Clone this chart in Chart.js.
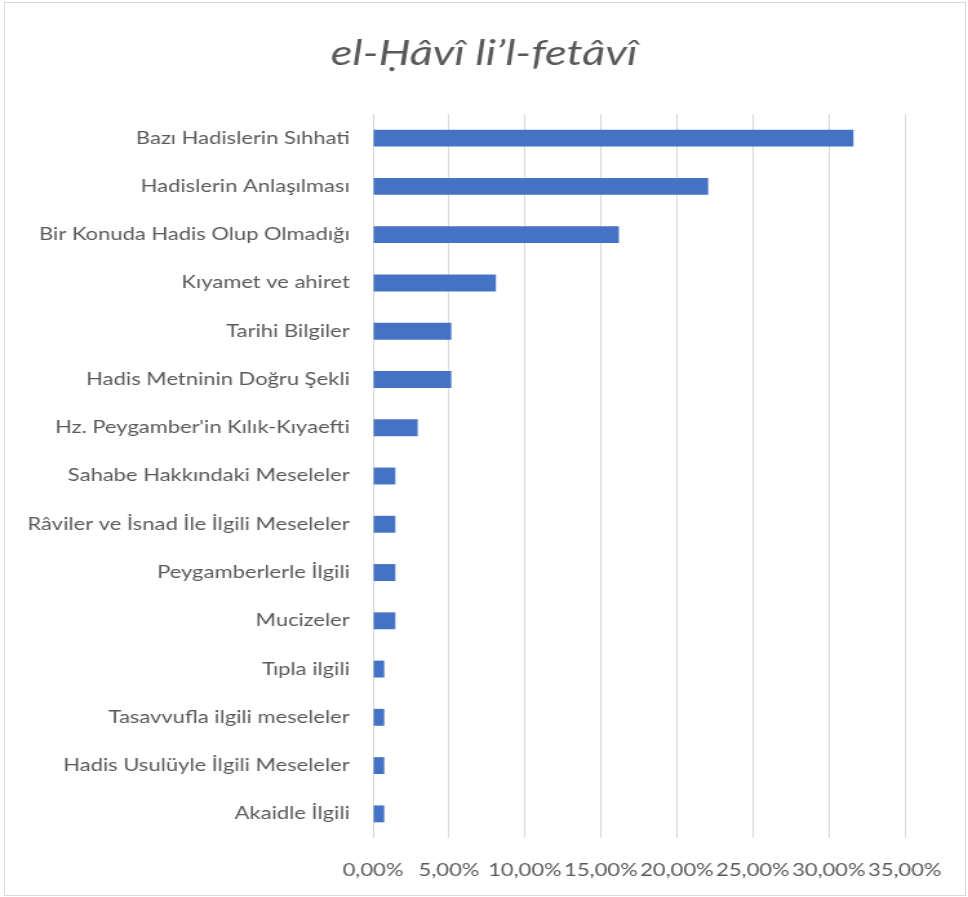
<!DOCTYPE html>
<html>
<head>
<meta charset="utf-8">
<script src="https://cdn.jsdelivr.net/npm/chart.js@4.4.1/dist/chart.umd.min.js"></script>
<style>
  html, body { margin: 0; padding: 0; background: #fff; }
  #wrap { position: relative; width: 968px; height: 897px; overflow: hidden; }
  #frame { position: absolute; left: 4px; top: 2px; width: 960px; height: 892px; border: 1px solid #d9d9d9; }
  /* the source picture is wider than it is tall in its glyphs, so stretch horizontally */
  #holder { position: absolute; left: 0; top: 0; width: 750px; height: 897px; transform: scaleX(1.2907); transform-origin: 0 0; }
</style>
</head>
<body>
<div id="wrap">
  <div id="frame"></div>
  <div id="holder"><canvas id="canvas" width="750" height="897"></canvas></div>
</div>
<script>
// konular ve oranlari (136 fetva uzerinden)
var categories = [
    "Bazı Hadislerin Sıhhati",
    "Hadislerin Anlaşılması",
    "Bir Konuda Hadis Olup Olmadığı",
    "Kıyamet ve ahiret",
    "Tarihi Bilgiler",
    "Hadis Metninin Doğru Şekli",
    "Hz. Peygamber'in Kılık-Kıyaefti",
    "Sahabe Hakkındaki Meseleler",
    "Râviler ve İsnad İle İlgili Meseleler",
    "Peygamberlerle İlgili",
    "Mucizeler",
    "Tıpla ilgili",
    "Tasavvufla ilgili meseleler",
    "Hadis Usulüyle İlgili Meseleler",
    "Akaidle İlgili"
];
var values = [0.3162, 0.2206, 0.1618, 0.0809, 0.0515, 0.0515, 0.0294,
              0.0147, 0.0147, 0.0147, 0.0147, 0.0074, 0.0074, 0.0074, 0.0074];
var tickValues = [0, 0.05, 0.10, 0.15, 0.20, 0.25, 0.30, 0.35];

var textColor = "#595959";

function pct(v){
    return (v * 100).toFixed(2).replace(".", ",") + "%";
}

var ctx = document.getElementById("canvas").getContext("2d");
window.myBar = new Chart(ctx, {
    type: "bar",
    data: {
        labels: categories,
        datasets: [{
            data: values,
            backgroundColor: "#4472C4",
            borderWidth: 0,
            barPercentage: 0.35,
            categoryPercentage: 1
        }]
    },
    options: {
        indexAxis: "y",
        responsive: false,
        animation: false,
        layout: { padding: 0 },
        plugins: {
            legend: { display: false },
            tooltip: { enabled: false },
            title: {
                display: true,
                text: "el-Ḥâvî li’l-fetâvî",
                color: textColor,
                font: { family: "Lato", size: 35, style: "italic", weight: "normal" },
                padding: { top: 33, bottom: 39 }
            }
        },
        scales: {
            x: {
                min: 0,
                max: 0.35,
                afterBuildTicks: function(scale){
                    scale.ticks = tickValues.map(function(v){ return { value: v }; });
                },
                afterFit: function(scale){
                    scale.height = 59;
                    scale.paddingRight = 49; // room on the right of the plot
                },
                grid: { color: "#d9d9d9", drawTicks: false },
                border: { display: false },
                ticks: {
                    color: textColor,
                    font: { family: "Lato", size: 17 },
                    padding: 22,
                    maxRotation: 0,
                    autoSkip: false,
                    callback: function(v){ return pct(v); }
                }
            },
            y: {
                afterFit: function(scale){ scale.width = 289; },
                grid: { display: false, drawTicks: false },
                border: { display: false },
                ticks: {
                    color: textColor,
                    font: { family: "Lato", size: 17 },
                    padding: 18,
                    autoSkip: false
                }
            }
        }
    }
});
</script>
</body>
</html>
